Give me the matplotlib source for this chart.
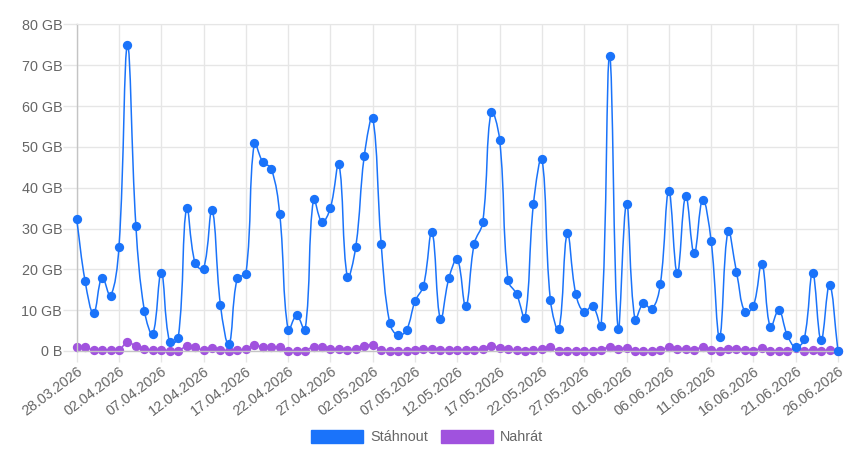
import numpy as np
import pandas as pd
import matplotlib
matplotlib.use("Agg")
import matplotlib.pyplot as plt
from matplotlib.path import Path
from matplotlib.patches import PathPatch, Patch

plt.rcParams['font.family'] = ['Liberation Sans', 'DejaVu Sans']

dates = pd.date_range("2026-03-28", "2026-06-26", freq="D")
date_labels = [d.strftime("%d.%m.%Y") for d in dates]

# GB per day
download = [32.3, 17.1, 9.2, 18.0, 13.5, 25.5, 74.9, 30.7, 9.9, 4.2,
            19.2, 2.1, 3.1, 35.1, 21.5, 20.2, 34.6, 11.2, 1.6, 18.0,
            18.8, 50.9, 46.3, 44.7, 33.6, 5.1, 8.7, 5.1, 37.2, 31.6,
            35.1, 45.7, 18.2, 25.6, 47.8, 57.0, 26.2, 6.9, 3.8, 5.2,
            12.2, 16.0, 29.2, 7.8, 17.8, 22.5, 10.9, 26.3, 31.5, 58.6,
            51.8, 17.3, 14.0, 8.2, 36.1, 47.0, 12.5, 5.3, 28.8, 14.0,
            9.5, 11.1, 6.2, 72.2, 5.5, 36.1, 7.7, 11.7, 10.2, 16.4,
            39.2, 19.0, 38.0, 23.9, 37.1, 27.0, 3.5, 29.3, 19.4, 9.5,
            11.0, 21.3, 5.8, 10.0, 3.9, 0.9, 2.9, 19.1, 2.6, 16.2,
            0.0]
upload = [1.05, 1.05, 0.15, 0.3, 0.2, 0.3, 2.1, 1.2, 0.5, 0.25,
          0.25, 0.0, 0.0, 1.2, 0.9, 0.25, 0.65, 0.25, 0.0, 0.25,
          0.4, 1.5, 0.9, 1.05, 0.9, 0.1, 0.1, 0.1, 1.05, 0.9,
          0.4, 0.4, 0.25, 0.4, 1.3, 1.4, 0.25, 0.0, 0.0, 0.1,
          0.3, 0.5, 0.6, 0.2, 0.2, 0.3, 0.2, 0.2, 0.6, 1.2,
          0.8, 0.4, 0.2, 0.0, 0.2, 0.5, 0.9, 0.1, 0.1, 0.1,
          0.1, 0.1, 0.25, 1.05, 0.5, 0.75, 0.0, 0.1, 0.1, 0.15,
          1.0, 0.6, 0.6, 0.25, 1.0, 0.3, 0.1, 0.6, 0.6, 0.25,
          0.1, 0.65, 0.1, 0.1, 0.1, 0.65, 0.1, 0.25, 0.1, 0.15,
          0.05]

y_ticks = [0, 10, 20, 30, 40, 50, 60, 70, 80]
y_labels = ["0 B"] + [f"{v} GB" for v in y_ticks[1:]]

blue = "#1a73fa"
purple = "#a052de"
text_col = "#666666"
grid_col = "#e6e6e6"
axis_col = "#c4c4c4"
fs = 10.4

fig = plt.figure(figsize=(8.51, 4.57), dpi=100)
ax = fig.add_axes([0.0901, 0.232, 0.8946, 0.7144])
x = np.arange(len(dates))
ax.set_xlim(0, len(dates) - 1)
ax.set_ylim(0, 80)


def spline(ax, xs, ys, tension=0.4):
    # bezier through points, control points like chart.js (pixel space)
    pts = ax.transData.transform(np.column_stack([xs, ys]))
    n = len(pts)
    verts = [pts[0]]
    codes = [Path.MOVETO]
    cps = []
    for i in range(n):
        prev = pts[max(i - 1, 0)]
        cur = pts[i]
        nxt = pts[min(i + 1, n - 1)]
        d01 = np.hypot(*(cur - prev))
        d12 = np.hypot(*(nxt - cur))
        tot = d01 + d12
        s01 = d01 / tot if tot else 0
        s12 = d12 / tot if tot else 0
        cp_prev = cur - tension * s01 * (nxt - prev)
        cp_next = cur + tension * s12 * (nxt - prev)
        cps.append((cp_prev, cp_next))
    for i in range(1, n):
        verts += [cps[i - 1][1], cps[i][0], pts[i]]
        codes += [Path.CURVE4] * 3
    data = ax.transData.inverted().transform(np.array(verts))
    data[:, 1] = np.clip(data[:, 1], 0, 80)
    return Path(data, codes)


for vals, col, z in [(upload, purple, 2), (download, blue, 3)]:
    ax.add_patch(PathPatch(spline(ax, x, vals), facecolor="none",
                           edgecolor=col, lw=1.1, zorder=z, clip_on=False))
    ax.plot(x, vals, "o", color=col, ms=6.7, mew=0, zorder=z + 0.5, clip_on=False)

ax.set_yticks(y_ticks)
ax.set_yticklabels(y_labels)
ax.set_xticks(x[::5])
ax.set_xticklabels(date_labels[::5], rotation=37, ha="right", va="top",
                   rotation_mode="anchor")
ax.tick_params(axis="y", length=9.9, width=1, color=grid_col, pad=0.5,
               labelsize=fs, labelcolor=text_col)
ax.tick_params(axis="x", length=8, width=1, color=grid_col, pad=1.5,
               labelsize=fs, labelcolor=text_col)
ax.grid(True, color=grid_col, lw=1)
ax.set_axisbelow(True)
for side in ["top", "right"]:
    ax.spines[side].set_color(grid_col)
for side in ["left", "bottom"]:
    ax.spines[side].set_color(axis_col)
    ax.spines[side].set_linewidth(1)

handles = [Patch(facecolor=blue, edgecolor=blue, label="Stáhnout"),
           Patch(facecolor=purple, edgecolor=purple, label="Nahrát")]
fig.legend(handles=handles, loc="center", bbox_to_anchor=(0.502, 0.044),
           ncol=2, frameon=False, fontsize=fs, labelcolor=text_col,
           handlelength=3.6, handleheight=1.05, handletextpad=0.5,
           columnspacing=0.9, borderpad=0)

fig.savefig("out.png", dpi=100)
